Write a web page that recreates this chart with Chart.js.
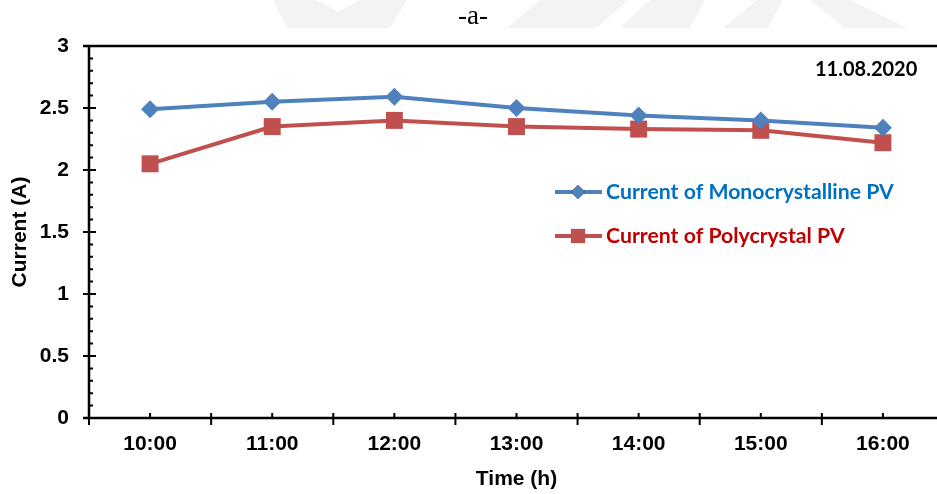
<!DOCTYPE html>
<html>
<head>
<meta charset="utf-8">
<script src="https://cdn.jsdelivr.net/npm/chart.js@4/dist/chart.umd.min.js"></script>
<style>
  html, body { margin: 0; padding: 0; background: #fff; overflow: hidden; }
  #wrap { position: relative; width: 956px; height: 494px; }
  #c { display: block; }
</style>
</head>
<body>
<div id="wrap"><canvas id="c" width="956" height="494"></canvas></div>
<script>
// Hourly readings, 11.08.2020
const hours = ['10:00', '11:00', '12:00', '13:00', '14:00', '15:00', '16:00'];
const monoCurrent = [2.49, 2.55, 2.59, 2.50, 2.44, 2.40, 2.34];
const polyCurrent = [2.05, 2.35, 2.40, 2.35, 2.33, 2.32, 2.22];
const yTicks = [0, 0.5, 1, 1.5, 2, 2.5, 3];

const monoLabel = 'Current of Monocrystalline PV';
const polyLabel = 'Current of Polycrystal PV';
const dateLabel = '11.08.2020';
const panelTitle = '-a-';

const BLUE = '#4F81BD', RED = '#C0504D';
const BLUE_TXT = '#0070C0', RED_TXT = '#C00000';
const AX_FONT = { family: '"Liberation Sans", Arial, sans-serif', size: 21, weight: 'bold' };
const CAL = 'Lato, "Open Sans", sans-serif';

function fitFont(ctx, text, weight, family, width) {
  let s = 10;
  for (; s < 40; s += 0.25) {
    ctx.font = weight + ' ' + s + 'px ' + family;
    if (ctx.measureText(text).width >= width) break;
  }
  return weight + ' ' + s + 'px ' + family;
}

// faint background mark at the top of the page
const backdrop = {
  id: 'backdrop',
  beforeDraw(chart) {
    const ctx = chart.ctx;
    ctx.save();
    ctx.fillStyle = '#fff';
    ctx.fillRect(0, 0, chart.width, chart.height);
    const poly = (pts, col) => {
      ctx.fillStyle = col;
      ctx.beginPath();
      pts.forEach((p, i) => i ? ctx.lineTo(p[0], p[1]) : ctx.moveTo(p[0], p[1]));
      ctx.closePath();
      ctx.fill();
    };
    const g = '#f3f3f3';
    poly([[273,0],[317,0],[338,12],[360,0],[407,0],[390,28],[287,28]], g);
    poly([[540,0],[628,0],[597,28],[507,28]], g);
    poly([[650,0],[705,0],[690,28],[620,28]], g);
    poly([[757,0],[850,0],[907,28],[723,28]], g);
    poly([[783,0],[810,0],[845,28],[768,28]], '#fff');
    ctx.restore();
  }
};

// axis lines, crossing major ticks and inside minor ticks
const axesFrame = {
  id: 'axesFrame',
  beforeDatasetsDraw(chart) {
    const { ctx, chartArea: a, scales: { x, y } } = chart;
    ctx.save();
    ctx.strokeStyle = '#000';
    ctx.lineCap = 'butt';
    ctx.lineWidth = 2.5;
    ctx.beginPath();
    ctx.moveTo(a.left - 6, a.top); ctx.lineTo(a.right, a.top);
    ctx.moveTo(a.left, a.top); ctx.lineTo(a.left, a.bottom);
    ctx.moveTo(a.left - 6, a.bottom); ctx.lineTo(a.right, a.bottom);
    ctx.stroke();
    ctx.lineWidth = 2;
    ctx.beginPath();
    yTicks.forEach(v => { const py = y.getPixelForValue(v); ctx.moveTo(a.left - 6, py); ctx.lineTo(a.left + 7, py); });
    for (let k = 0; k <= 30; k++) {
      if (k % 5 === 0) continue;
      const py = y.getPixelForValue(k / 10);
      ctx.moveTo(a.left, py); ctx.lineTo(a.left + 4, py);
    }
    const n = hours.length;
    const step = x.getPixelForValue(1) - x.getPixelForValue(0);
    for (let i = 0; i <= n; i++) {
      const px = x.getPixelForValue(0) + (i - 0.5) * step;
      ctx.moveTo(px, a.bottom - 5); ctx.lineTo(px, a.bottom + 7);
    }
    for (let i = 0; i < n; i++) {
      const px = x.getPixelForValue(i);
      ctx.moveTo(px, a.bottom - 5); ctx.lineTo(px, a.bottom);
    }
    ctx.stroke();
    ctx.restore();
  }
};

// panel title, date stamp and legend
const annotations = {
  id: 'annotations',
  afterDraw(chart) {
    const ctx = chart.ctx;
    ctx.save();
    ctx.fillStyle = '#000';
    ctx.font = '27px "Liberation Serif", "Times New Roman", serif';
    ctx.textAlign = 'center';
    ctx.textBaseline = 'alphabetic';
    ctx.fillText(panelTitle, 473, 24);

    ctx.textAlign = 'left';
    ctx.textBaseline = 'middle';
    ctx.font = fitFont(ctx, dateLabel, 'bold', CAL, 102);
    ctx.fillText(dateLabel, 815, 70);

    const items = [
      { ds: chart.data.datasets[0], y: 192, color: BLUE_TXT },
      { ds: chart.data.datasets[1], y: 236, color: RED_TXT }
    ];
    const f = fitFont(ctx, monoLabel, 'bold', CAL, 285);
    items.forEach(it => {
      ctx.strokeStyle = it.ds.borderColor;
      ctx.lineWidth = 4;
      ctx.beginPath();
      ctx.moveTo(555, it.y); ctx.lineTo(602, it.y);
      ctx.stroke();
      Chart.helpers.drawPoint(ctx, {
        pointStyle: it.ds.pointStyle,
        radius: it.ds.pointStyle === 'rect' ? 10 : 7,
        borderWidth: 0
      }, 578, it.y);
      ctx.fillStyle = it.ds.pointBackgroundColor;
      ctx.fill();
      ctx.fillStyle = it.color;
      ctx.font = f;
      ctx.fillText(it.ds.label, 606, it.y);
    });
    ctx.restore();
  }
};

new Chart(document.getElementById('c'), {
  type: 'line',
  data: {
    labels: hours,
    datasets: [
      {
        label: monoLabel, data: monoCurrent,
        borderColor: BLUE, backgroundColor: BLUE,
        pointBackgroundColor: BLUE, pointBorderColor: BLUE,
        borderWidth: 4, pointStyle: 'rectRot', pointRadius: 9, pointBorderWidth: 0,
        tension: 0
      },
      {
        label: polyLabel, data: polyCurrent,
        borderColor: RED, backgroundColor: RED,
        pointBackgroundColor: RED, pointBorderColor: RED,
        borderWidth: 4, pointStyle: 'rect', pointRadius: 12, pointBorderWidth: 0,
        tension: 0
      }
    ]
  },
  options: {
    responsive: false,
    animation: false,
    devicePixelRatio: 1,
    layout: { padding: { left: 0, right: 7, top: 46, bottom: 0 } },
    plugins: { legend: { display: false }, tooltip: { enabled: false }, title: { display: false } },
    scales: {
      x: {
        type: 'category',
        offset: true,
        grid: { display: false, drawTicks: false },
        border: { display: false },
        ticks: { font: AX_FONT, color: '#000', padding: 14, maxRotation: 0 },
        title: { display: true, text: 'Time (h)', font: AX_FONT, color: '#000', padding: { top: 0, bottom: 2 } },
        afterFit(s) { s.height = 76; }
      },
      y: {
        min: 0, max: 3,
        grid: { display: false, drawTicks: false },
        border: { display: false },
        ticks: { stepSize: 0.5, font: AX_FONT, color: '#000', padding: 20, callback: v => String(v) },
        afterBuildTicks(s) { s.ticks = yTicks.map(v => ({ value: v })); },
        title: { display: true, text: 'Current (A)', font: AX_FONT, color: '#000', padding: { top: 8, bottom: 0 } },
        afterFit(s) { s.width = 89; }
      }
    }
  },
  plugins: [backdrop, axesFrame, annotations]
});
</script>
</body>
</html>
